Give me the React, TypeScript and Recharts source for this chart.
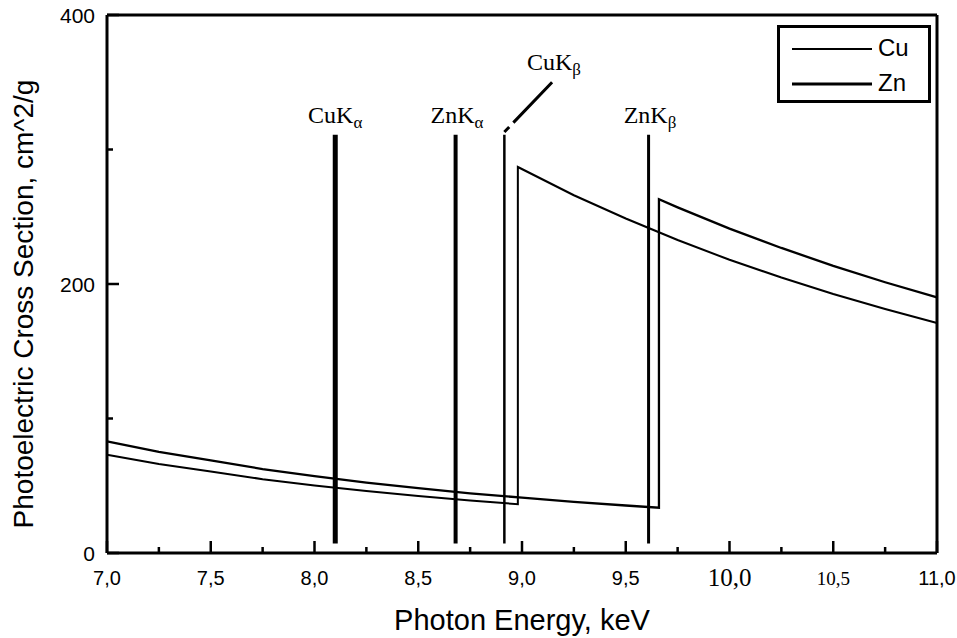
import React from "react";
import {
  LineChart,
  Line,
  XAxis,
  YAxis,
  ReferenceLine,
  ReferenceDot,
} from "recharts";

// photon energy (keV) / cross section (cm^2/g)
const cuEnergy = [7.0, 7.25, 7.5, 7.75, 8.0, 8.25, 8.5, 8.75, 8.98, 8.98, 9.25, 9.5, 9.75, 10.0, 10.25, 10.5, 10.75, 11.0];
const cuSection = [73, 66.2, 60.6, 54.9, 50.2, 46.1, 42.4, 39.1, 36.3, 287, 266, 248.7, 232.7, 218, 204.8, 192.6, 181.4, 171];

const znEnergy = [7.0, 7.25, 7.5, 7.75, 8.0, 8.25, 8.5, 8.75, 9.0, 9.25, 9.5, 9.66, 9.66, 9.75, 10.0, 10.25, 10.5, 10.75, 11.0];
const znSection = [83, 75.2, 68.9, 62.4, 57.1, 52.4, 48.2, 44.4, 41.1, 38.0, 35.3, 33.7, 263, 257, 241.2, 226.8, 213.5, 201.3, 190];

// emission lines
const lineNames = ["CuK", "ZnK", "CuK", "ZnK"];
const lineSubs = ["α", "α", "β", "β"];
const lineEnergy = [8.1, 8.68, 8.915, 9.61];
const lineWidths = [5, 4, 2.5, 3];
const lineBottom = 7;
const lineTop = 311;
// label anchor (energy, section) for each line
const labelEnergy = [8.1, 8.687, 9.154, 9.617];
const labelSection = [320, 320, 359, 320];
// pointer from CuKβ label to its line
const pointerFrom = { e: 8.915, v: 313 };
const pointerTo = { e: 9.145, v: 350 };

const xMajorTicks = [7.0, 7.5, 8.0, 8.5, 9.0, 9.5, 10.0, 10.5, 11.0];
const xTickLabels = ["7,0", "7,5", "8,0", "8,5", "9,0", "9,5", "10,0", "10,5", "11,0"];
const xMinorTicks = [7.25, 7.75, 8.25, 8.75, 9.25, 9.75, 10.25, 10.75];
const yMajorTicks = [0, 200, 400];
const yMinorTicks = [100, 300];

const legendNames = ["Cu", "Zn"];
const legendWidths = [2, 3];

const cuData = cuEnergy.map((e, i) => ({ e, v: cuSection[i] }));
const znData = znEnergy.map((e, i) => ({ e, v: znSection[i] }));

const SANS = "'Liberation Sans', Arial, sans-serif";
const SERIF = "'Liberation Serif', 'Times New Roman', serif";

function XTick(props: any) {
  const { x, y, payload } = props;
  const idx = xMajorTicks.indexOf(payload.value);
  const major = idx >= 0;
  const label = major ? xTickLabels[idx] : "";
  let font = SANS;
  let size = 20;
  let dy = 32;
  if (label === "10,0") {
    font = SERIF;
    size = 25;
    dy = 33;
  } else if (label === "10,5") {
    font = SERIF;
    size = 19;
  }
  return (
    <g>
      <line x1={x} y1={y} x2={x} y2={y - (major ? 12 : 6)} stroke="#000" strokeWidth={2.5} />
      {major && (
        <text x={x} y={y + dy} textAnchor="middle" fontFamily={font} fontSize={size} fill="#000">
          {label}
        </text>
      )}
    </g>
  );
}

function YTick(props: any) {
  const { x, y, payload } = props;
  const major = yMajorTicks.includes(payload.value);
  return (
    <g>
      <line x1={x} y1={y} x2={x + (major ? 12 : 6)} y2={y} stroke="#000" strokeWidth={2.5} />
      {major && (
        <text x={x - 12} y={y + 8} textAnchor="end" fontFamily={SANS} fontSize={21} fill="#000">
          {payload.value}
        </text>
      )}
    </g>
  );
}

function XTitle(props: any) {
  const { viewBox } = props;
  return (
    <text
      x={viewBox.x + viewBox.width / 2}
      y={viewBox.y + 77}
      textAnchor="middle"
      fontFamily={SANS}
      fontSize={29}
      fill="#000"
    >
      Photon Energy, keV
    </text>
  );
}

function YTitle(props: any) {
  const { viewBox } = props;
  const cx = viewBox.x - 4;
  const cy = viewBox.y + viewBox.height / 2 + 20;
  return (
    <text
      x={cx}
      y={cy}
      transform={`rotate(-90 ${cx} ${cy})`}
      textAnchor="middle"
      fontFamily={SANS}
      fontSize={28}
      fill="#000"
    >
      Photoelectric Cross Section, cm^2/g
    </text>
  );
}

function LineLabel(props: any) {
  const { viewBox, name, sub } = props;
  const x = viewBox.x + viewBox.width / 2;
  const y = viewBox.y + viewBox.height / 2;
  return (
    <text x={x} y={y} textAnchor="middle" fontFamily={SERIF} fontSize={24} fill="#000">
      <tspan>{name}</tspan>
      <tspan fontSize={17} dy={5}>
        {sub}
      </tspan>
    </text>
  );
}

function LegendBox() {
  return (
    <div
      style={{
        position: "absolute",
        left: 777,
        top: 25,
        width: 148,
        height: 72,
        border: "3px solid #000",
        background: "#fff",
      }}
    >
      {legendNames.map((name, i) => (
        <div key={name} style={{ display: "flex", alignItems: "center", height: 30, marginTop: 5 }}>
          <svg width={96} height={30}>
            <line x1={12} y1={16} x2={92} y2={16} stroke="#000" strokeWidth={legendWidths[i]} />
          </svg>
          <span style={{ fontFamily: SANS, fontSize: 24, color: "#000", marginLeft: 2 }}>{name}</span>
        </div>
      ))}
    </div>
  );
}

export default function App() {
  return (
    <div style={{ position: "absolute", left: 0, top: 0, width: 957, height: 638, background: "#fff" }}>
      <LineChart width={957} height={638} margin={{ top: 15, right: 20, left: 37, bottom: 35 }}>
        <XAxis
          type="number"
          dataKey="e"
          domain={[7, 11]}
          ticks={[...xMajorTicks, ...xMinorTicks].sort((a, b) => a - b)}
          interval={0}
          height={50}
          tickSize={0}
          tickMargin={0}
          tickLine={false}
          tick={<XTick />}
          axisLine={{ stroke: "#000", strokeWidth: 3 }}
          label={<XTitle />}
        />
        <YAxis
          type="number"
          dataKey="v"
          domain={[0, 400]}
          ticks={[...yMajorTicks, ...yMinorTicks].sort((a, b) => a - b)}
          interval={0}
          width={70}
          tickSize={0}
          tickMargin={0}
          tickLine={false}
          tick={<YTick />}
          axisLine={{ stroke: "#000", strokeWidth: 3 }}
          label={<YTitle />}
        />
        <ReferenceLine y={400} stroke="#000" strokeWidth={3} />
        <ReferenceLine x={11} stroke="#000" strokeWidth={3} />
        <Line
          data={cuData}
          dataKey="v"
          name="Cu"
          type="linear"
          stroke="#000"
          strokeWidth={2}
          dot={false}
          isAnimationActive={false}
        />
        <Line
          data={znData}
          dataKey="v"
          name="Zn"
          type="linear"
          stroke="#000"
          strokeWidth={2.3}
          dot={false}
          isAnimationActive={false}
        />
        {lineEnergy.map((e, i) => (
          <ReferenceLine
            key={"m" + i}
            segment={[
              { x: e, y: lineBottom },
              { x: e, y: lineTop },
            ]}
            stroke="#000"
            strokeWidth={lineWidths[i]}
          />
        ))}
        <ReferenceLine
          segment={[
            { x: pointerFrom.e, y: pointerFrom.v },
            { x: pointerTo.e, y: pointerTo.v },
          ]}
          stroke="#000"
          strokeWidth={3}
          strokeDasharray="7 6 200"
        />
        {labelEnergy.map((e, i) => (
          <ReferenceDot
            key={"l" + i}
            x={e}
            y={labelSection[i]}
            r={0}
            fill="none"
            stroke="none"
            label={<LineLabel name={lineNames[i]} sub={lineSubs[i]} />}
          />
        ))}
      </LineChart>
      <LegendBox />
    </div>
  );
}
